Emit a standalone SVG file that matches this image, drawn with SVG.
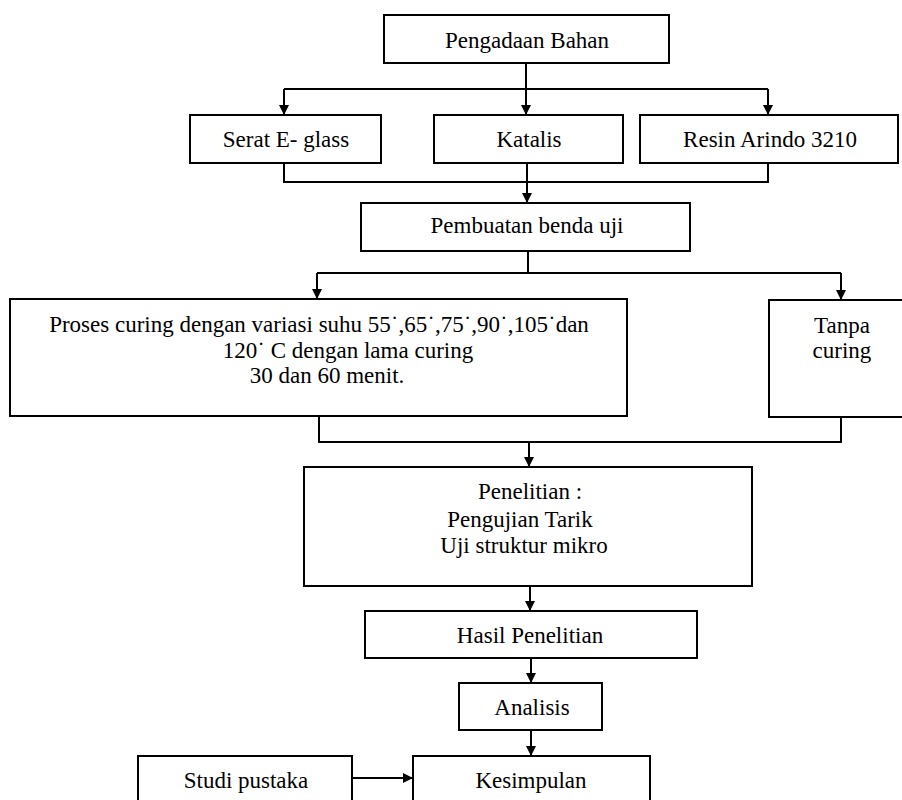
<svg xmlns="http://www.w3.org/2000/svg" width="902" height="800" viewBox="0 0 902 800">
<style>
rect.box{fill:#fff;stroke:#000;stroke-width:2}
.t text{font-size:23px;fill:#000;text-anchor:middle}
.conn path{fill:none;stroke:#000;stroke-width:2}
</style>
<defs>
<marker id="arr" viewBox="0 0 10 10" refX="10" refY="5" markerWidth="10" markerHeight="10" markerUnits="userSpaceOnUse" orient="auto">
<path d="M0,0 L10,5 L0,10 Z" fill="#000"/>
</marker>
</defs>
<rect width="902" height="800" fill="#fff"/>
<g class="conn">
<path d="M526,63 V89"/>
<path d="M284,89 H768"/>
<path d="M284,89 V115" marker-end="url(#arr)"/>
<path d="M526,89 V115" marker-end="url(#arr)"/>
<path d="M768,89 V115" marker-end="url(#arr)"/>
<path d="M284,163 V182 H768 V163"/>
<path d="M527,163 V203" marker-end="url(#arr)"/>
<path d="M528,251 V273"/>
<path d="M317,273 H841"/>
<path d="M317,273 V299" marker-end="url(#arr)"/>
<path d="M841,273 V300" marker-end="url(#arr)"/>
<path d="M319,416 V442 H841 V417"/>
<path d="M529,442 V467" marker-end="url(#arr)"/>
<path d="M530,586 V611" marker-end="url(#arr)"/>
<path d="M531,658 V683" marker-end="url(#arr)"/>
<path d="M531,730 V756" marker-end="url(#arr)"/>
<path d="M352,778 H413" marker-end="url(#arr)"/>
</g>
<g class="t" font-family="'Liberation Serif', 'DejaVu Serif', 'Times New Roman', serif">
<g id="pengadaan"><rect class="box" x="384" y="15" width="285" height="48"/><text x="527" y="48">Pengadaan Bahan</text></g>
<g id="serat"><rect class="box" x="190" y="115" width="191" height="48"/><text x="286" y="147">Serat E- glass</text></g>
<g id="katalis"><rect class="box" x="434" y="115" width="189" height="48"/><text x="529" y="147">Katalis</text></g>
<g id="resin"><rect class="box" x="640" y="115" width="258" height="48"/><text x="770" y="147">Resin Arindo 3210</text></g>
<g id="pembuatan"><rect class="box" x="361" y="203" width="329" height="48"/><text x="527" y="233">Pembuatan benda uji</text></g>
<g id="proses"><rect class="box" x="10" y="299" width="617" height="117"/>
<text x="319" y="332">Proses curing dengan variasi suhu 55˙,65˙,75˙,90˙,105˙dan</text>
<text x="348" y="358">120˙ C dengan lama curing</text>
<text x="327" y="383">30 dan 60 menit.</text></g>
<g id="tanpa"><rect class="box" x="769" y="300" width="140" height="117"/>
<text x="842" y="333">Tanpa</text><text x="842" y="358">curing</text></g>
<g id="penelitian"><rect class="box" x="304" y="467" width="448" height="119"/>
<text x="530" y="499">Penelitian :</text>
<text x="520" y="527">Pengujian Tarik</text>
<text x="524" y="553">Uji struktur mikro</text></g>
<g id="hasil"><rect class="box" x="365" y="611" width="332" height="47"/><text x="530" y="643">Hasil Penelitian</text></g>
<g id="analisis"><rect class="box" x="459" y="683" width="143" height="47"/><text x="532" y="715">Analisis</text></g>
<g id="studi"><rect class="box" x="138" y="756" width="214" height="60"/><text x="246" y="788">Studi pustaka</text></g>
<g id="kesimpulan"><rect class="box" x="413" y="756" width="237" height="60"/><text x="531" y="788">Kesimpulan</text></g>
</g>
</svg>
